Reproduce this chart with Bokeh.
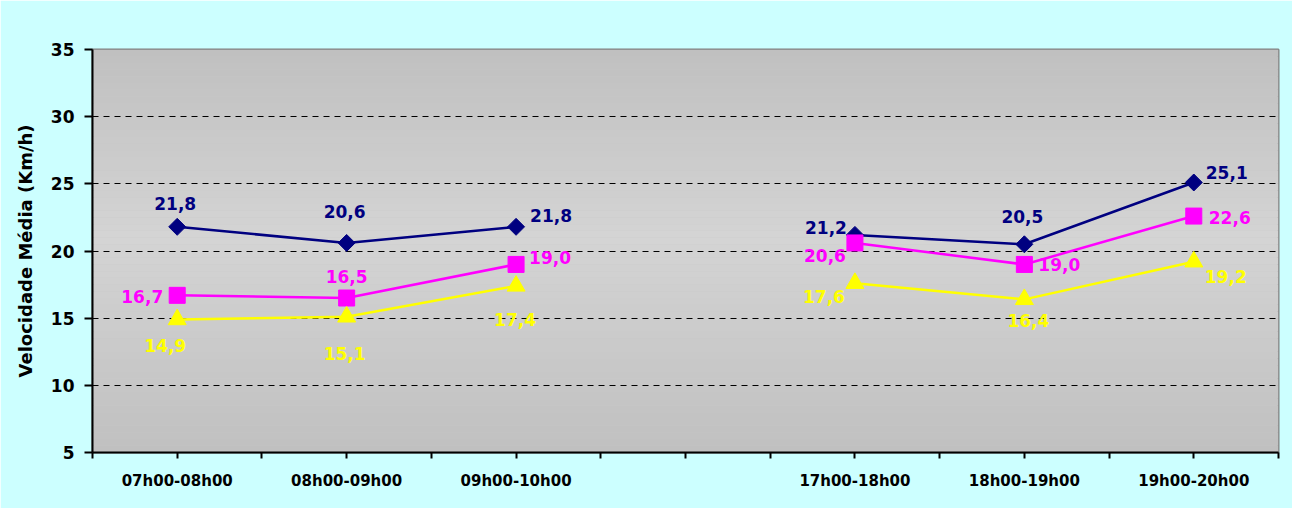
import math
from bokeh.plotting import figure
from bokeh.models import ColumnDataSource, Range1d, FixedTicker
from bokeh.core.properties import value
from bokeh.embed import file_html
from bokeh.resources import INLINE

# ---- data ----
categories = ["07h00-08h00", "08h00-09h00", "09h00-10h00", "",
              "17h00-18h00", "18h00-19h00", "19h00-20h00"]
serie_azul = [21.8, 20.6, 21.8, None, 21.2, 20.5, 25.1]
serie_rosa = [16.7, 16.5, 19.0, None, 20.6, 19.0, 22.6]
serie_amarela = [14.9, 15.1, 17.4, None, 17.6, 16.4, 19.2]
y_ticks = [5, 10, 15, 20, 25, 30, 35]

# ---- label placement (screen px offsets, alignment) ----
place_azul = [(-2, -23, "center"), (-2, -31, "center"), (14, -11, "left"), None,
              (-8, -7, "right"), (-2, -28, "center"), (12, -10, "left")]
place_rosa = [(-14, 1, "right"), (0, -22, "center"), (13, -7, "left"), None,
              (-9, 13, "right"), (14, 0, "left"), (15, 1, "left")]
place_amarela = [(-12, 26, "center"), (-2, 37, "center"), (-1, 34, "center"), None,
                 (-10, 13, "right"), (4, 21, "center"), (11, 15, "left")]

FONT = "DejaVu Sans"

p = figure(width=1292, height=508, output_backend="svg", toolbar_location=None,
           x_range=Range1d(0, len(categories)), y_range=Range1d(5, 35))
p.min_border_left = 92
p.min_border_right = 14
p.min_border_top = 49
p.min_border_bottom = 56
p.border_fill_color = "#CCFFFF"
p.background_fill_color = "#C8C8C8"
p.outline_line_color = "#808080"
p.outline_line_width = 2

# gradient plot background (decoration)
nb = 60
for k in range(nb):
    y0 = 5 + 30 * k / nb
    y1 = 5 + 30 * (k + 1) / nb
    yc = (y0 + y1) / 2
    if yc >= 21:
        t = (35 - yc) / 14
    else:
        t = (yc - 5) / 16
    g = int(round(192 + 20 * t))
    col = "#%02x%02x%02x" % (g, g, g)
    p.quad(left=0, right=len(categories), bottom=y0, top=y1, fill_color=col,
           line_color=None, level="image")

# axes
xs = [i + 0.5 for i in range(len(categories))]
xticks = [i * 0.5 for i in range(2 * len(categories) + 1)]
overrides = {t: "" for t in xticks}
for i, c in enumerate(categories):
    overrides[i + 0.5] = c
p.xaxis.ticker = FixedTicker(ticks=xticks)
p.xaxis.major_label_overrides = overrides
p.xaxis.major_tick_in = 0
p.xaxis.major_tick_out = 6
p.xaxis.minor_tick_line_color = None
p.xaxis.major_label_standoff = 13
p.xaxis.major_label_text_font = FONT
p.xaxis.major_label_text_font_style = "bold"
p.xaxis.major_label_text_font_size = "15px"
p.xaxis.major_label_text_color = "black"

p.yaxis.ticker = FixedTicker(ticks=y_ticks)
p.yaxis.major_tick_in = 0
p.yaxis.major_tick_out = 8
p.yaxis.minor_tick_line_color = None
p.yaxis.major_label_standoff = 10
p.yaxis.major_label_text_font = FONT
p.yaxis.major_label_text_font_style = "bold"
p.yaxis.major_label_text_font_size = "17px"
p.yaxis.major_label_text_color = "black"
p.yaxis.axis_label = "Velocidade Média (Km/h)"
p.yaxis.axis_label_text_font = FONT
p.yaxis.axis_label_text_font_style = "bold"
p.yaxis.axis_label_text_font_size = "18px"
p.yaxis.axis_label_text_color = "black"
p.yaxis.axis_label_standoff = 12

for ax in (p.xaxis, p.yaxis):
    ax.axis_line_color = "black"
    ax.axis_line_width = 2
    ax.major_tick_line_color = "black"
    ax.major_tick_line_width = 2

p.xgrid.grid_line_color = None
p.ygrid.ticker = FixedTicker(ticks=[10, 15, 20, 25, 30])
p.ygrid.grid_line_color = "black"
p.ygrid.grid_line_width = 1
p.ygrid.grid_line_dash = "6 5"


def nanify(vals):
    return [float("nan") if v is None else v for v in vals]


def draw(vals, color, marker, size, angle, place):
    ys = nanify(vals)
    p.line(xs, ys, line_color=color, line_width=2.5)
    p.scatter(xs, ys, marker=marker, size=size, angle=angle,
              fill_color=color, line_color=color)
    lx, ly, lt, dx, dy, al = [], [], [], [], [], []
    for x, v, pl in zip(xs, vals, place):
        if v is None:
            continue
        lx.append(x)
        ly.append(v)
        lt.append(f"{v:.1f}".replace(".", ","))
        dx.append(pl[0])
        dy.append(pl[1])
        al.append(pl[2])
    src = ColumnDataSource(dict(x=lx, y=ly, t=lt, dx=dx, dy=dy, al=al))
    p.text(x="x", y="y", text="t", x_offset="dx", y_offset="dy", text_align="al",
           text_baseline="middle", text_color=color, text_font=value(FONT),
           text_font_style="bold", text_font_size="17px", source=src)


draw(serie_azul, "#000080", "square", 12, math.pi / 4, place_azul)
draw(serie_rosa, "#FF00FF", "square", 16, 0, place_rosa)
draw(serie_amarela, "#FFFF00", "triangle", 18, 0, place_amarela)

open("out.html", "w").write(file_html(p, INLINE))
